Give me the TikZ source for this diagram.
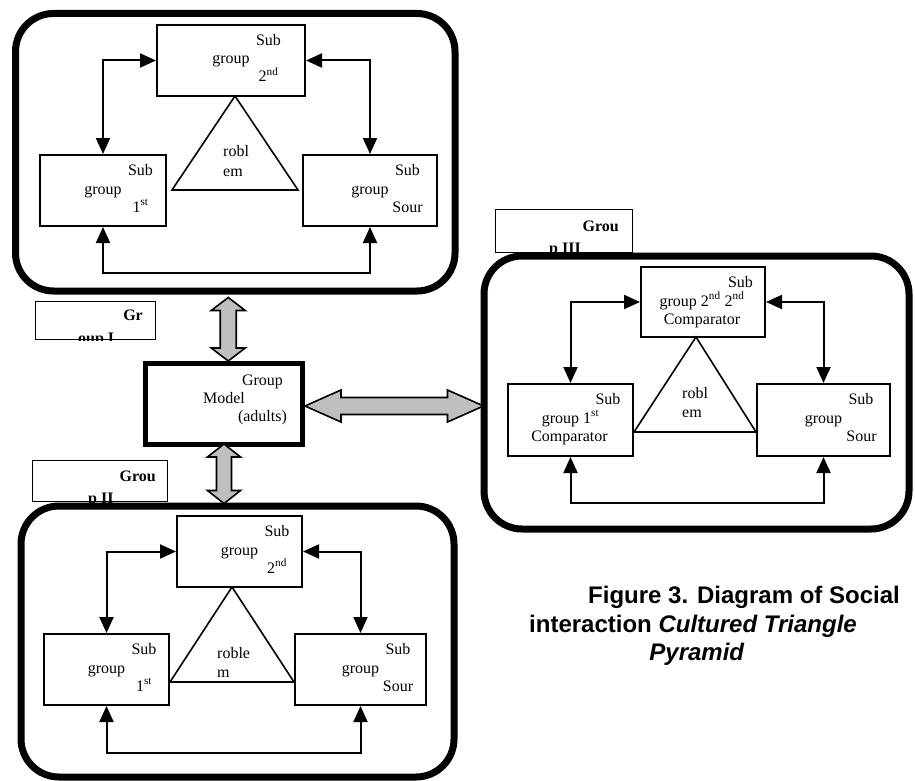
\documentclass[tikz,border=0pt]{standalone}
\usepackage{fontspec}
\setmainfont{Liberation Serif}
\newfontfamily\capfont{Liberation Sans}
\usetikzlibrary{arrows.meta,calc}
\tikzset{
  grpbox/.style={draw, line width=7pt, rounded corners=38pt, inner sep=0pt},
  subbox/.style={draw, line width=2pt, fill=white, inner sep=0pt},
  labbox/.style={draw, line width=1.6pt, fill=white, inner sep=0pt},
  modelbox/.style={draw, line width=5pt, fill=white, inner sep=0pt},
  txt/.style={inner sep=0pt, font=\fontsize{16}{19}\selectfont},
  btxt/.style={inner sep=0pt, font=\fontsize{16}{19}\selectfont\bfseries},
  captxt/.style={inner sep=0pt, font=\capfont\fontsize{24}{28}\selectfont\bfseries},
  conn/.style={line width=2pt, {Triangle[length=16pt,width=14pt]}-{Triangle[length=16pt,width=14pt]}},
  tri/.style={draw, line width=1.6pt, line join=miter},
  garr/.style={draw, line width=1.6pt, fill=gray!50, line join=miter},
}
\newcommand\subtxt[5]{%
  \node[txt,anchor=base] (#1a) at ($(#1.north)+(37.5,21.5)$) {Sub};
  \node[txt,anchor=base] (#1b) at ($(#1.north)+(#2,40)$) {#3};
  \node[txt,anchor=base] (#1c) at ($(#1.north)+(#4,58)$) {#5};}
% vertical gray double arrow between coordinates #1 (top tip) and #2 (bottom tip)
\newcommand\vgarrow[4]{% #1 top, #2 bottom, #3 head half width, #4 shaft half width
  \draw[garr] (#1) -- ($(#1)+(#3,13)$) -- ($(#1)+(#4,13)$) -- ($(#2)+(#4,-13)$) -- ($(#2)+(#3,-13)$) -- (#2)
    -- ($(#2)+(-#3,-13)$) -- ($(#2)+(-#4,-13)$) -- ($(#1)+(-#4,13)$) -- ($(#1)+(-#3,13)$) -- cycle;}
\begin{document}
\begin{tikzpicture}[x=1pt,y=-1pt]
\useasboundingbox (0,0) rectangle (915,781);

% ---------- group labels ----------
\node[labbox, minimum width=120, minimum height=38] (lab1) at (95.5,320.5) {};
\node[labbox, minimum width=135, minimum height=41] (lab2) at (100,481) {};
\node[labbox, minimum width=137, minimum height=43] (lab3) at (564,231) {};
\node[btxt, anchor=base east] (lab1a) at (143,320) {Gr};
\node[btxt, anchor=base east] (lab2a) at (156,481) {Grou};
\node[btxt, anchor=base east] (lab3a) at (619,231) {Grou};
\begin{scope}
  \clip (lab1.north west) rectangle (lab1.south east);
  \node[btxt, anchor=base west] (lab1b) at (78,343) {oup I};
\end{scope}
\begin{scope}
  \clip (lab2.north west) rectangle (lab2.south east);
  \node[btxt, anchor=base west] (lab2b) at (88,503) {p II};
\end{scope}
\begin{scope}
  \clip (lab3.north west) rectangle ($(lab3.south east)+(0,-2)$);
  \node[btxt, anchor=base west] (lab3b) at (549,253) {p III};
\end{scope}

% ---------- group frames ----------
\node[grpbox, minimum width=439.5, minimum height=277.5] (g1) at (235.25,152.25) {};
\node[grpbox, minimum width=433, minimum height=271] (g2) at (237.5,641.5) {};
\node[grpbox, minimum width=425, minimum height=273] (g3) at (696.5,392.5) {};

% ---------- model ----------
\node[modelbox, minimum width=157, minimum height=81] (model) at (224,404) {};
\node[txt, anchor=base] (modela) at ($(model.center)+(38.5,-19)$) {Group};
\node[txt, anchor=base] (modelb) at ($(model.center)+(0,-1)$) {Model};
\node[txt, anchor=base] (modelc) at ($(model.center)+(38.5,17)$) {(adults)};

% ---------- gray double arrows ----------
\coordinate (va1) at ($(g1.south)+(-7,3)$);
\coordinate (vb1) at (va1 |- model.north);
\vgarrow{va1}{vb1}{17}{8}
\coordinate (va2) at ($(model.south)+(0,-3)$);
\coordinate (vb2) at ($(va2 |- g2.north)+(0,1)$);
\vgarrow{va2}{vb2}{16.5}{7.5}
\coordinate (ha) at ($(model.east)+(0,2)$);
\coordinate (hb) at ($(ha -| g3.west)+(3,0)$);
\draw[garr] (ha) -- ($(ha)+(36,-16)$) -- ($(ha)+(36,-8.5)$) -- ($(hb)+(-36,-8.5)$) -- ($(hb)+(-36,-16)$) -- (hb)
  -- ($(hb)+(-36,16)$) -- ($(hb)+(-36,8.5)$) -- ($(ha)+(36,8.5)$) -- ($(ha)+(36,16)$) -- cycle;

% ================= Group I =================
\node[subbox, minimum width=148, minimum height=71] (t1) at (231,60.5) {};
\node[subbox, minimum width=126, minimum height=71] (l1) at (103,190.5) {};
\node[subbox, minimum width=134, minimum height=71] (r1) at (370,190.5) {};
\subtxt{t1}{0}{group}{37.5}{2\textsuperscript{nd}}
\subtxt{l1}{0}{group}{37.5}{1\textsuperscript{st}}
\subtxt{r1}{0}{group}{37.5}{Sour}
\coordinate (p1a) at (235,96);
\coordinate (p1b) at (172,190);
\coordinate (p1c) at (298,190);
\draw[tri] (p1a) -- (p1b) -- (p1c) -- cycle;
\node[txt, anchor=base west] (p1t1) at (223,157) {robl};
\node[txt, anchor=base west] (p1t2) at (223,176) {em};
\coordinate (b1) at (0,273);
\draw[conn] (l1.north) |- (t1.west);
\draw[conn] (t1.east) -| (r1.north);
\draw[conn] (l1.south) -- (l1.south |- b1) -| (r1.south);

% ================= Group II =================
\node[subbox, minimum width=125, minimum height=71] (t2) at (239.5,551.5) {};
\node[subbox, minimum width=125, minimum height=71] (l2) at (106.5,669.5) {};
\node[subbox, minimum width=131, minimum height=71] (r2) at (360.5,669.5) {};
\subtxt{t2}{0}{group}{37.5}{2\textsuperscript{nd}}
\subtxt{l2}{0}{group}{37.5}{1\textsuperscript{st}}
\subtxt{r2}{0}{group}{37.5}{Sour}
\coordinate (p2a) at (232,587);
\coordinate (p2b) at (l2.east |- 0,682);
\coordinate (p2c) at (r2.west |- 0,682);
\draw[tri] (p2a) -- (p2b) -- (p2c) -- cycle;
\node[txt, anchor=base west] (p2t1) at (217,658) {roble};
\node[txt, anchor=base west] (p2t2) at (217,677) {m};
\coordinate (b2) at (0,753);
\draw[conn] (l2.north) |- (t2.west);
\draw[conn] (t2.east) -| (r2.north);
\draw[conn] (l2.south) -- (l2.south |- b2) -| (r2.south);

% ================= Group III =================
\node[subbox, minimum width=124, minimum height=70] (t3) at (703,302) {};
\node[subbox, minimum width=125, minimum height=72] (l3) at (570.5,420) {};
\node[subbox, minimum width=133, minimum height=72] (r3) at (823.5,420) {};
\subtxt{t3}{-1}{group 2\textsuperscript{nd} 2\textsuperscript{nd}}{-1}{Comparator}
\subtxt{l3}{0}{group 1\textsuperscript{st}}{-1}{Comparator}
\subtxt{r3}{0}{group}{38}{Sour}
\coordinate (p3a) at (696,337);
\coordinate (p3b) at (l3.east |- 0,432);
\coordinate (p3c) at (r3.west |- 0,432);
\draw[tri] (p3a) -- (p3b) -- (p3c) -- cycle;
\node[txt, anchor=base west] (p3t1) at (682,398) {robl};
\node[txt, anchor=base west] (p3t2) at (682,417) {em};
\coordinate (b3) at (0,503);
\draw[conn] (l3.north) |- (t3.west);
\draw[conn] (t3.east) -| (r3.north);
\draw[conn] (l3.south) -- (l3.south |- b3) -| (r3.south);

% ---------- caption ----------
\node[captxt, anchor=base west] (cap1) at (588,603) {Figure 3. Diagram of Social};
\node[captxt, anchor=base west] (cap2) at (529,632) {interaction \textit{Cultured Triangle}};
\node[captxt, anchor=base] (cap3) at (697,660) {\textit{Pyramid}};
\end{tikzpicture}
\end{document}
